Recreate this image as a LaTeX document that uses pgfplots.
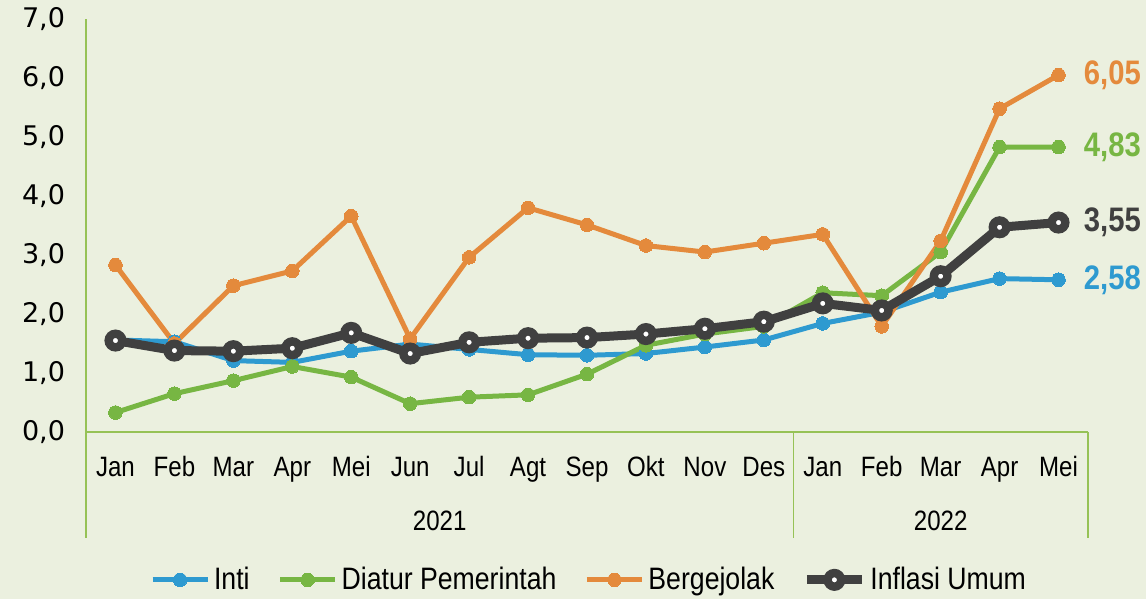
\documentclass[border=0pt]{standalone}
\usepackage{fontspec}
\setmainfont{DejaVu Sans}
\newfontfamily\narrow[FakeStretch=0.86]{Liberation Sans}
\usepackage{pgfplots}
\usepackage{pgfplotstable}
\pgfplotsset{compat=1.18}
\definecolor{bg}{RGB}{235,240,223}
\definecolor{axgreen}{RGB}{150,194,86}
\definecolor{cblue}{RGB}{46,154,208}
\definecolor{cgreen}{RGB}{119,182,67}
\definecolor{corange}{RGB}{228,138,60}
\definecolor{cdark}{RGB}{64,64,64}
\pgfplotstableread{
x inti diatur berg umum
0  1.56 0.33 2.83 1.55
1  1.53 0.65 1.50 1.38
2  1.21 0.87 2.48 1.37
3  1.18 1.11 2.73 1.42
4  1.37 0.93 3.66 1.68
5  1.49 0.48 1.58 1.33
6  1.40 0.59 2.96 1.52
7  1.31 0.63 3.80 1.59
8  1.30 0.98 3.51 1.60
9  1.33 1.47 3.16 1.66
10 1.44 1.66 3.05 1.75
11 1.56 1.79 3.20 1.87
12 1.84 2.36 3.35 2.18
13 2.03 2.31 1.79 2.06
14 2.37 3.05 3.24 2.64
15 2.60 4.83 5.48 3.47
16 2.58 4.83 6.05 3.55
}\datatable
\begin{document}
\begin{tikzpicture}
\fill[bg] (0,0) rectangle (573bp,299.5bp);
\begin{axis}[
  at={(43bp,83.5bp)}, anchor=south west,
  scale only axis, width=501bp, height=206.5bp,
  xmin=-0.5, xmax=16.5, ymin=0, ymax=7,
  clip=false,
  axis x line*=bottom, axis y line*=left,
  axis line style={axgreen, line width=0.8bp, -},
  major tick length=0,
  xtick={0,...,16},
  xticklabels={Jan,Feb,Mar,Apr,Mei,Jun,Jul,Agt,Sep,Okt,Nov,Des,Jan,Feb,Mar,Apr,Mei},
  xticklabel style={font=\narrow\fontsize{14bp}{16bp}\selectfont, anchor=base, yshift=-22bp},
  ytick={0,1,...,7},
  yticklabel style={font=\fontsize{13.5bp}{16bp}\selectfont, xshift=-7bp},
  /pgf/number format/.cd, fixed, fixed zerofill, precision=1, use comma, assume math mode=true,
  /pgfplots/.cd,
  legend style={at={(0.503,-0.358)}, anchor=center, legend columns=-1, draw=none, fill=none,
    font=\narrow\fontsize{15.5bp}{17bp}\selectfont,
    /tikz/every even column/.append style={column sep=12bp}},
  legend image code/.code={\draw[mark repeat=2,mark phase=2] plot coordinates {(0bp,0bp)(13.75bp,0bp)(27.5bp,0bp)};},
]
\addplot[cblue, line width=2.5bp, mark=*, mark size=3.4bp, mark options={line width=0}] table[x=x,y=inti]{\datatable};
\addlegendentry{Inti}
\addplot[cgreen, line width=2.5bp, mark=*, mark size=3.4bp, mark options={line width=0}] table[x=x,y=diatur]{\datatable};
\addlegendentry{Diatur Pemerintah}
\addplot[corange, line width=2.5bp, mark=*, mark size=3.4bp, mark options={line width=0}] table[x=x,y=berg]{\datatable};
\addlegendentry{Bergejolak}
\addplot[cdark, line width=4.5bp, mark=*, mark size=3.4bp, mark options={fill=white, draw=cdark, line width=4.2bp}] table[x=x,y=umum]{\datatable};
\addlegendentry{Inflasi Umum}
\draw[axgreen, line width=0.8bp] (axis cs:-0.5,0) -- ++(0pt,-53bp);
\draw[axgreen, line width=0.8bp] (axis cs:11.5,0) -- ++(0pt,-53bp);
\draw[axgreen, line width=0.8bp] (axis cs:16.5,0) -- ++(0pt,-53bp);
\node[font=\narrow\fontsize{14bp}{16bp}\selectfont, anchor=base, yshift=-49bp] at (axis cs:5.5,0) {2021};
\node[font=\narrow\fontsize{14bp}{16bp}\selectfont, anchor=base, yshift=-49bp] at (axis cs:14,0) {2022};
\node[font=\narrow\bfseries\fontsize{17bp}{18bp}\selectfont, text=corange, anchor=west, inner sep=0, xshift=12.5bp] at (axis cs:16,6.05) {6,05};
\node[font=\narrow\bfseries\fontsize{17bp}{18bp}\selectfont, text=cgreen, anchor=west, inner sep=0, xshift=12.5bp] at (axis cs:16,4.83) {4,83};
\node[font=\narrow\bfseries\fontsize{17bp}{18bp}\selectfont, text=cdark, anchor=west, inner sep=0, xshift=12.5bp] at (axis cs:16,3.55) {3,55};
\node[font=\narrow\bfseries\fontsize{17bp}{18bp}\selectfont, text=cblue, anchor=west, inner sep=0, xshift=12.5bp] at (axis cs:16,2.58) {2,58};
\end{axis}
\pgfresetboundingbox
\path (0,0) rectangle (573bp,299.5bp);
\end{tikzpicture}
\end{document}
